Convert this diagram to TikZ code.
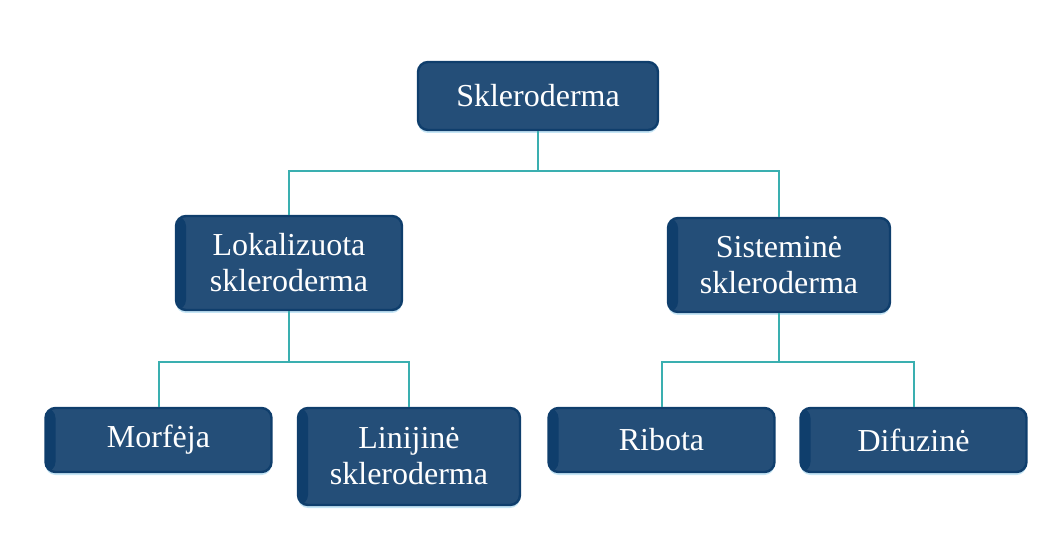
\documentclass[tikz,border=0pt]{standalone}
\usepackage{fontspec}
\setmainfont{Liberation Serif}
\usepackage{tikz}
\usetikzlibrary{shadows}
\definecolor{boxfill}{HTML}{244E78}
\definecolor{boxedge}{HTML}{0F3E6C}
\definecolor{linkcol}{HTML}{3AAFB0}
\definecolor{glowcol}{HTML}{9FD3EE}

\begin{document}
\begin{tikzpicture}[x=0.5pt,y=-0.5pt,
                    box/.style={draw=boxedge,line width=1.2pt,fill=boxfill,rounded corners=5pt,
                        text=white,align=center,font=\fontsize{16}{18}\selectfont,
                        minimum width=113pt,minimum height=32pt,inner sep=2pt,
                        drop shadow={shadow xshift=0pt,shadow yshift=-1.5pt,fill=glowcol,opacity=0.6}},
                    stripe/.style={path picture={\fill[boxedge] (path picture bounding box.south west)
                        rectangle ([xshift=5pt]path picture bounding box.north west);}},
                    link/.style={draw=linkcol,line width=1pt}]
                    \useasboundingbox (0,0) rectangle (1043,539);
                    \node [box,minimum width=120pt,minimum height=34pt] (root) at (538,96) {Skleroderma};
                    \node [box,stripe,minimum height=47pt] (lok) at (289,263) {Lokalizuota\\skleroderma};
                    \node [box,stripe,minimum width=111pt,minimum height=47pt] (sis) at (779,265) {Sisteminė\\skleroderma};
                    \node [box,stripe] (morf) at (158.5,440) {Morfėja};
                    \node [box,stripe,minimum width=111pt,minimum height=48.5pt] (lin) at (409,456.5) {Linijinė\\skleroderma};
                    \node [box,stripe] (rib) at (661.5,440) {Ribota};
                    \node [box,stripe] (dif) at (913.5,440) {Difuzinė};
                    \coordinate (rootj) at (538,171);
                    \coordinate (lokj) at (289,362);
                    \coordinate (sisj) at (779,362);
                    \draw [link] (root) -- (rootj);
                    \draw [link] (rootj) -| (lok);
                    \draw [link] (rootj) -| (sis);
                    \draw [link] (lok) -- (lokj);
                    \draw [link] (lokj) -| (morf);
                    \draw [link] (lokj) -| (lin);
                    \draw [link] (sis) -- (sisj);
                    \draw [link] (sisj) -| (rib);
                    \draw [link] (sisj) -| (dif);
                \end{tikzpicture}
\end{document}
